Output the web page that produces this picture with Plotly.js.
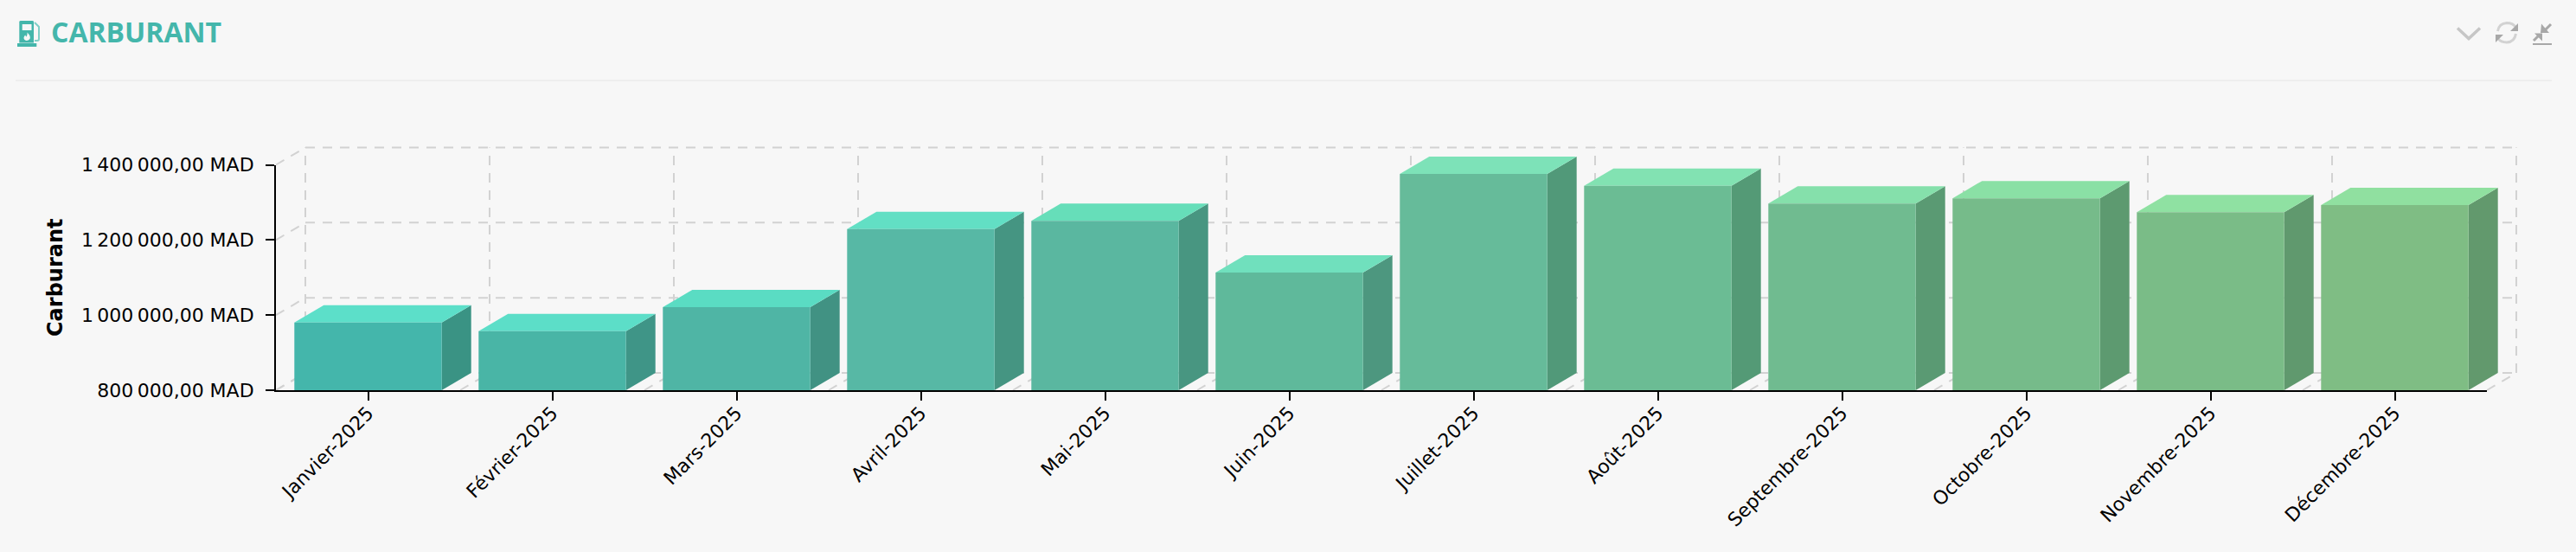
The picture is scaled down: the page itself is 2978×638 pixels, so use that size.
<!DOCTYPE html>
<html>
<head>
<meta charset="utf-8">
<title>Carburant</title>
<script src="https://cdn.plot.ly/plotly-3.0.1.min.js"></script>
<style>html,body{margin:0;padding:0;background:#f7f7f7;overflow:hidden}#chart{width:2978px;height:638px}</style>
</head>
<body>
<div id="chart"></div>
<script>
const months = ["Janvier-2025","Février-2025","Mars-2025","Avril-2025","Mai-2025","Juin-2025","Juillet-2025","Août-2025","Septembre-2025","Octobre-2025","Novembre-2025","Décembre-2025"];
const amounts = [980000,957000,1021000,1229000,1251000,1113000,1376000,1344000,1297000,1311000,1274000,1293000];
const frontColors = ["#44b6ab","#49b5a6","#4fb5a5","#57b8a5","#5ab7a0","#5fb99b","#66bb9a","#6bbc94","#70bb90","#76bb8a","#7abc87","#7fbd84"];
const topColors = ["#5cdfc9","#5cdec8","#5adcc3","#62dfc4","#66deb9","#70e0bd","#7de2b8","#82e2b2","#85e0ab","#8ae0a5","#8fe1a2","#90e0a0"];
const sideColors = ["#3a9384","#3f9587","#419283","#459582","#489681","#4d977f","#519979","#549a76","#5a9a73","#5d9a70","#60996e","#62996d"];
const yTicks = [800000,1000000,1200000,1400000];
const yTickText = ["800\u202f000,00\u00a0MAD","1\u202f000\u202f000,00\u00a0MAD","1\u202f200\u202f000,00\u00a0MAD","1\u202f400\u202f000,00\u00a0MAD"];

const W = 2978, H = 638;
/* pixel frame of the true axes, and of the larger box that also holds the 3D depth */
const L = 319, R = 2875, T = 190.5, B = 451;
const XL = 314, XR = 2918, YT = 165, YB = 454;
const xIdx = months.map((_, i) => i);
const xRange = [-0.5, 11.5], yRange = [800000, 1400000];
const pxPerCat = (R - L) / (xRange[1] - xRange[0]), pxPerVal = (B - T) / (yRange[1] - yRange[0]);
const barW = 0.8, depthX = 34 / pxPerCat, depthY = 20 / pxPerVal;
const yMin = yRange[0], yMax = yRange[1];
const TEAL = "#44b6ab", GRID = "#d2d2d2", BG = "#f7f7f7";

/* rear box of the 3D frame, drawn below the bars */
const wall = {x: [], y: []};
function seg(x0, y0, x1, y1){ wall.x.push(x0, x1, null); wall.y.push(y0, y1, null); }
const xEdges = [...xIdx.map(i => i - 0.5), 11.5];
yTicks.forEach(v => {
  seg(-0.5 + depthX, v + depthY, 11.5 + depthX, v + depthY);
  seg(-0.5, v, -0.5 + depthX, v + depthY);
});
xEdges.forEach(e => {
  seg(e + depthX, yMin + depthY, e + depthX, yMax + depthY);
  seg(e, yMin, e + depthX, yMin + depthY);
});

const traces = [{
  type: "scatter", mode: "lines", x: wall.x, y: wall.y, xaxis: "x", yaxis: "y",
  connectgaps: false, hoverinfo: "skip", showlegend: false,
  line: {color: GRID, width: 2, dash: "11px,9px"}
}];
xIdx.forEach(i => {
  const l = i - barW / 2, r = i + barW / 2, v = amounts[i];
  traces.push({
    type: "scatter", mode: "lines", xaxis: "x", yaxis: "y",
    x: [r, r + depthX, r + depthX, r, r], y: [yMin, yMin + depthY, v + depthY, v, yMin],
    fill: "toself", fillcolor: sideColors[i], line: {width: 0}, hoverinfo: "skip", showlegend: false
  });
  traces.push({
    type: "scatter", mode: "lines", xaxis: "x", yaxis: "y",
    x: [l, r, r + depthX, l + depthX, l], y: [v, v, v + depthY, v + depthY, v],
    fill: "toself", fillcolor: topColors[i], line: {width: 0}, hoverinfo: "skip", showlegend: false
  });
});
traces.push({
  type: "bar", x: xIdx, y: amounts, width: barW, xaxis: "x2", yaxis: "y2",
  marker: {color: frontColors, line: {width: 0}}, hoverinfo: "skip", showlegend: false
});

/* page furniture in pixel positions, converted to paper space */
const PX = x => (x - XL) / (XR - XL), PY = y => (YB - y) / (YB - YT);
function P(cmds){
  return cmds.map(c => c[0] + " " + c.slice(1).map((n, k) => (k % 2 ? PY(n) : PX(n)).toFixed(6)).join(" ")).join(" ");
}
function S(cmds, o){
  return Object.assign({type: "path", xref: "paper", yref: "paper", path: P(cmds)}, o);
}
const fill = c => ({fillcolor: c, line: {width: 0}});
const stroke = (c, w) => ({line: {color: c, width: w}, fillcolor: "rgba(0,0,0,0)"});
const shapes = [
  S([["M",18,93],["L",2950,93]], stroke("#eeeeee", 2)),
  // fuel pump icon
  S([["M",24,24],["L",37.5,24],["Q",39,24,39,25.5],["L",39,49.5],["L",22.3,49.5],["L",22.3,25.5],["Q",22.3,24,24,24],["Z"]], fill(TEAL)),
  S([["M",20,50],["L",42.3,50],["L",42.3,54],["L",20,54],["Z"]], fill(TEAL)),
  S([["M",25.7,28],["L",36.5,28],["L",36.5,35],["L",25.7,35],["Z"]], fill(BG)),
  S([["M",31.5,37.5],["Q",36,42,34.5,45],["Q",33,47,30.5,47],["Q",27.5,46.5,27.5,43.5],["Q",28,41.5,29.3,40.5],["Q",29.7,42,30.5,42.5],["Q",32,40,31.5,37.5],["Z"]], fill(BG)),
  S([["M",40,26],["L",45,31],["L",45,45],["Q",45,47,43,47],["L",40,47]], stroke("#7fcfc7", 2)),
  // chevron
  S([["M",2841,32.5],["L",2854,44.5],["L",2867,32.5]], stroke("#c6c6c6", 3.5)),
  // refresh
  S([["M",2887.5,36],["Q",2889,27,2898,26.5],["Q",2905,26.5,2908,31]], stroke("#d2d2d2", 3)),
  S([["M",2908.5,39],["Q",2907,48.5,2898,49],["Q",2891,49,2888,44.5]], stroke("#d2d2d2", 3)),
  S([["M",2911,27],["L",2911,36],["L",2902,36],["Z"]], fill("#a8a8a8")),
  S([["M",2885,49],["L",2885,40],["L",2894,40],["Z"]], fill("#a8a8a8")),
  // compress
  S([["M",2949,28],["L",2942,35]], stroke("#a8a8a8", 3)),
  S([["M",2938,27.5],["L",2947,38],["L",2937,38],["Z"]], fill("#a8a8a8")),
  S([["M",2929,47],["L",2935,41]], stroke("#a8a8a8", 3)),
  S([["M",2930,38.5],["L",2939,38.5],["L",2939,47.5],["Z"]], fill("#a8a8a8")),
  S([["M",2928,51],["L",2950,51]], stroke("#a8a8a8", 2))
];

const layout = {
  width: W, height: H, autosize: false,
  paper_bgcolor: BG, plot_bgcolor: "rgba(0,0,0,0)",
  margin: {l: XL, r: W - XR, t: YT, b: H - YB, pad: 0},
  showlegend: false, hovermode: false, barmode: "overlay",
  font: {family: "DejaVu Sans, sans-serif", color: "#000000", size: 22},
  title: {
    text: "<b>CARBURANT</b>", xref: "container", yref: "container",
    x: 59 / W, xanchor: "left", y: 1 - 37.5 / H, yanchor: "middle",
    font: {family: "Open Sans, sans-serif", size: 32, color: TEAL}
  },
  /* extended box: rear wall, side and top faces */
  xaxis: {
    domain: [0, 1], range: [xRange[0] + (XL - L) / pxPerCat, xRange[0] + (XR - L) / pxPerCat],
    anchor: "y", visible: false, fixedrange: true
  },
  yaxis: {
    domain: [0, 1], range: [yMin + (B - YB) / pxPerVal, yMin + (B - YT) / pxPerVal],
    anchor: "x", visible: false, fixedrange: true
  },
  /* true axes and the front faces */
  xaxis2: {
    domain: [PX(L), PX(R)], range: xRange, anchor: "y2",
    tickmode: "array", tickvals: xIdx, ticktext: months, tickangle: -45,
    ticks: "outside", ticklen: 10, tickwidth: 2, tickcolor: "#000", ticklabelstandoff: -7,
    showline: true, linecolor: "#000", linewidth: 2, showgrid: false, zeroline: false,
    tickfont: {size: 22, color: "#000"}, fixedrange: true
  },
  yaxis2: {
    domain: [PY(B), PY(T)], range: yRange, anchor: "x2",
    tickmode: "array", tickvals: yTicks, ticktext: yTickText,
    ticks: "outside", ticklen: 10, tickwidth: 2, tickcolor: "#000", ticklabelstandoff: 9,
    showline: true, linecolor: "#000", linewidth: 2, showgrid: false, zeroline: false,
    tickfont: {size: 22, color: "#000"}, fixedrange: true,
    title: {text: "<b>Carburant</b>", font: {size: 24, color: "#000"}, standoff: 14}
  },
  shapes: shapes
};
Plotly.newPlot("chart", traces, layout, {displayModeBar: false, staticPlot: true});
</script>
</body>
</html>
